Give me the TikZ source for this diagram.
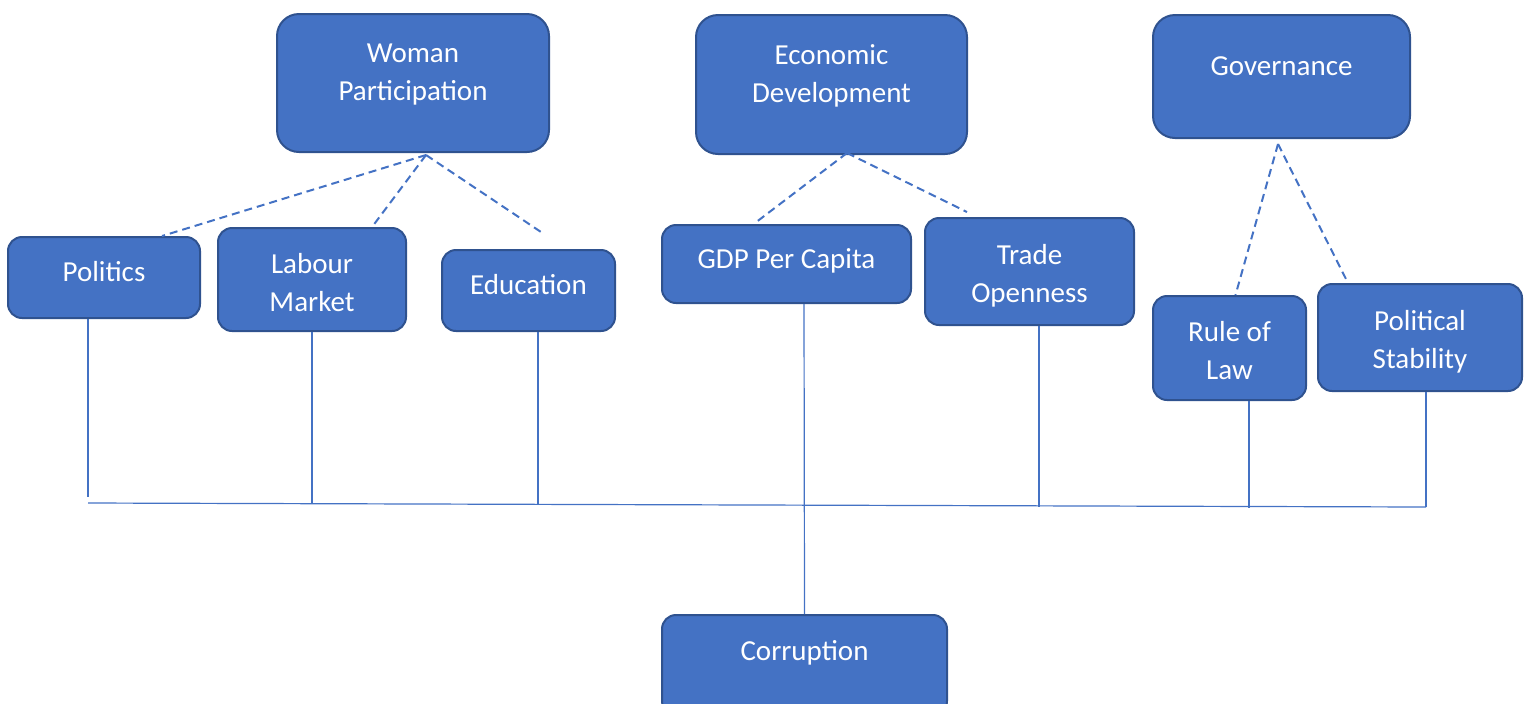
\documentclass[tikz,border=0pt]{standalone}
\usepackage{fontspec}
\setmainfont{Carlito}
\usetikzlibrary{calc}
\definecolor{boxblue}{RGB}{68,114,196}
\definecolor{edgeblue}{RGB}{47,82,143}

\begin{document}
\begin{tikzpicture}[
  x=0.5pt, y=-0.5pt,
  font=\fontsize{14.5}{19}\selectfont,
  box/.style 2 args={draw=edgeblue, line width=1pt, fill=boxblue, text=white, rounded corners=7pt, align=center, inner sep=0pt, minimum width=#1*0.5pt, minimum height=#2*0.5pt},
  topbox/.style 2 args={box={#1}{#2}, rounded corners=11pt},
  link/.style={draw=boxblue, line width=0.6pt},
  factor/.style={draw=boxblue, line width=1pt, dash pattern=on 4pt off 2.5pt}
]
\useasboundingbox (0,0) rectangle (1529,703);
\clip (0,0) rectangle (1529,703);

% dimension groups
\node[topbox={272}{138}, text depth=11pt] (woman) at (413,83) {Woman\\Participation};
\node[topbox={271}{139}, text depth=11pt] (econ) at (831.5,84.5) {Economic\\Development};
\node[topbox={257}{123}, text depth=10pt] (gov) at (1281.5,76.5) {Governance};

% indicators
\node[box={192}{81}, text depth=6pt] (politics) at (104,277.5) {Politics};
\node[box={188}{103}, text height=32pt] (labour) at (312,279.5) {Labour\\Market};
\node[box={173}{81}, text depth=6pt] (educ) at (528.5,290.5) {Education};
\node[box={249}{78}, text depth=5pt] (gdp) at (786.5,264) {GDP Per Capita};
\node[box={209}{107}, text height=33.5pt] (trade) at (1029.5,271.5) {Trade\\Openness};
\node[box={153}{104}, text height=31.5pt] (law) at (1229.5,348) {Rule of\\Law};
\node[box={204}{107}, text height=33.5pt] (stab) at (1420,337.5) {Political\\Stability};

% outcome
\node[box={285}{100}, text depth=15pt] (corr) at (804.5,665) {Corruption};

% fork points under the groups
\coordinate (wfork) at (426,155);
\coordinate (efork) at (847,153);
\coordinate (gfork) at (1278,144);
\coordinate (educend) at (541,232);
\coordinate (gdpend) at (755,223);
\coordinate (tradeend) at (967,212);

\draw[factor] (wfork) -- ($(politics.north)+(58,0)$);
\draw[factor] (wfork) -- ($(labour.north)+(60,0)$);
\draw[factor] (wfork) -- (educend);
\draw[factor] (efork) -- (gdpend);
\draw[factor] (efork) -- (tradeend);
\draw[factor] (gfork) -- ($(law.north)+(6,0)$);
\draw[factor] (gfork) -- ($(stab.north)+(-72,0)$);

% collecting line
\coordinate (busL) at (88,503);
\coordinate (busR) at (1426,507);
\coordinate (polend) at (88,497);
\draw[link] (busL) -- (busR);
\draw[link] (politics.south -| polend) -- (polend);
\draw[link] (labour.south) -- (labour.south |- busL);
\draw[link] ($(educ.south)+(9.5,0)$) -- ++(0,173);
\draw[link] ($(gdp.south)+(17.5,0)$) -- (corr.north);
\draw[link] ($(trade.south)+(9.5,0)$) -- ++(0,181);
\draw[link] ($(law.south)+(19.5,0)$) -- ++(0,107);
\draw[link] ($(stab.south)+(6,0)$) -- (busR);
\end{tikzpicture}
\end{document}
